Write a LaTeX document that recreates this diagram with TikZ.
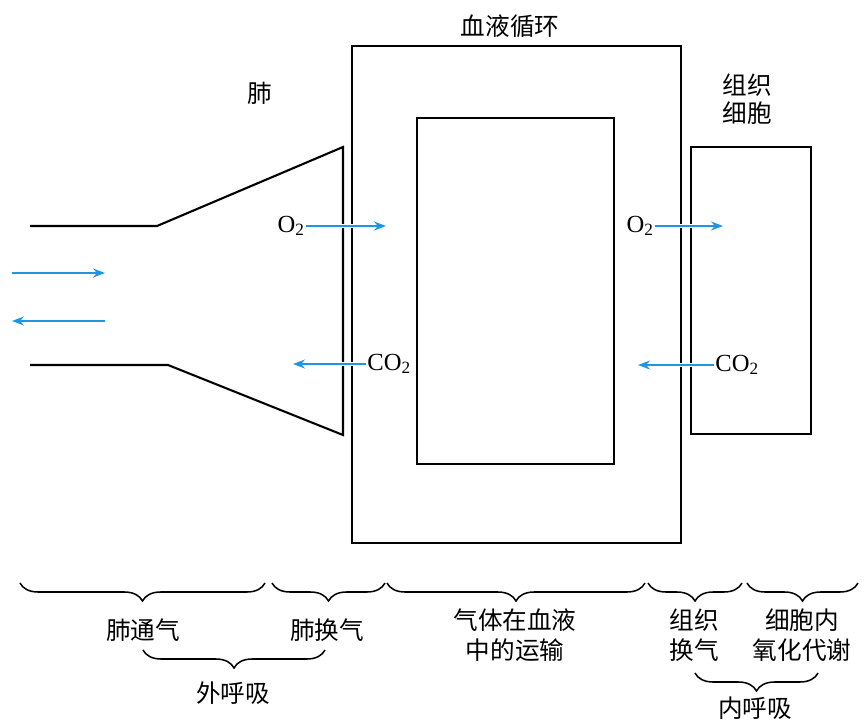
\documentclass[tikz,border=0pt]{standalone}
\usepackage{fontspec}
\setmainfont{Liberation Serif}
\newfontfamily\cjk{Noto Sans CJK SC}
\usetikzlibrary{decorations.pathreplacing,arrows.meta}
\definecolor{flowblue}{RGB}{30,150,225}
\tikzset{
  wall/.style={line width=1.8pt},
  gasflow/.style={->,flowblue,line width=1.5pt,preaction={draw=white,line width=3.5pt,-}},
  brc/.style={decorate,decoration={brace,mirror,amplitude=0.54cm},line width=1.3pt},
  lbl/.style={font=\cjk\fontsize{21}{25.6}\selectfont,align=center,inner sep=1pt},
  gas/.style={font=\fontsize{21}{25}\selectfont,inner sep=1pt}
}
\begin{document}
\begin{tikzpicture}[x=0.03cm,y=-0.03cm,>={Stealth[length=0.36cm,width=0.27cm,inset=0.12cm]}]
\useasboundingbox (0,0) rectangle (867,723);
% lung, blood, tissue
\draw[wall] (30,226)--(157,226)--(343,147)--(343,435)--(168,365)--(30,365);
\draw[wall] (352,46) rectangle (681,543);
\draw[wall] (417,118) rectangle (614,464);
\draw[wall] (691,147) rectangle (811,434);

\node[lbl] (lung) at (260,93) {肺};
\node[lbl] (blood) at (510,26) {血液循环};
\node[lbl] (tissue) at (747,99) {组织\\[-2pt]细胞};

% air in and out
\coordinate (inL) at (12,273);
\coordinate (inR) at (105,273);
\coordinate (outL) at (12,321);
\coordinate (outR) at (105,321);
\draw[gasflow] (inL)--(inR);
\draw[gasflow] (outR)--(outL);

% gas exchange
\node[gas,anchor=east] (oxyA) at (306,226) {O\textsubscript{2}};
\coordinate (oxyAend) at (386,226);
\node[gas,anchor=west] (carbA) at (366,364) {CO\textsubscript{2}};
\coordinate (carbAend) at (293,364);
\node[gas,anchor=east] (oxyB) at (655,226) {O\textsubscript{2}};
\coordinate (oxyBend) at (723,226);
\node[gas,anchor=west] (carbB) at (714,365) {CO\textsubscript{2}};
\coordinate (carbBend) at (638,365);
\draw[gasflow] (oxyA)--(oxyAend);
\draw[gasflow] (carbA)--(carbAend);
\draw[gasflow] (oxyB)--(oxyBend);
\draw[gasflow] (carbB)--(carbBend);

% braces
\foreach \a/\b in {20/265,272/385,387/645,648/742,747/858}
{
    \draw[brc] (\a,583)--(\b,583);
}
\node[lbl] (vent) at (143,630) {肺通气};
\node[lbl] (lungex) at (327,630) {肺换气};
\node[lbl] (trans) at (515,635) {气体在血液\\中的运输};
\node[lbl] (tisex) at (694,635) {组织\\换气};
\node[lbl] (cellox) at (802,635) {细胞内\\氧化代谢};

\draw[brc] (143,650)--(325,650);
\node[lbl] (extresp) at (233,693) {外呼吸};
\draw[brc] (695,673)--(818,673);
\node[lbl] (intresp) at (755,708) {内呼吸};
\end{tikzpicture}
\end{document}
